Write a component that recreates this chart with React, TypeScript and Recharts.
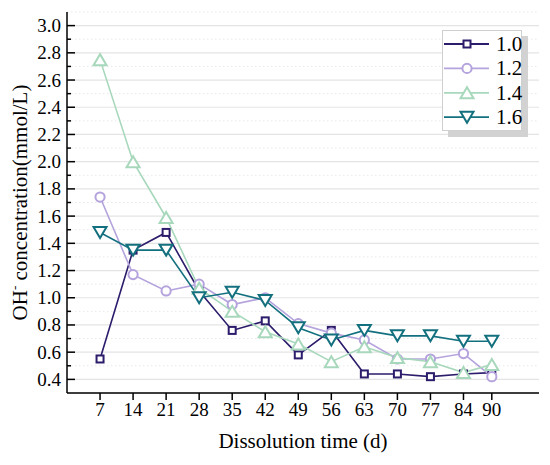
import {
  LineChart,
  Line,
  XAxis,
  YAxis,
  CartesianGrid,
  Legend,
} from "recharts";

const days = [7, 14, 21, 28, 35, 42, 49, 56, 63, 70, 77, 84, 90];
const s10 = [0.55, 1.35, 1.48, 1.05, 0.76, 0.83, 0.58, 0.76, 0.44, 0.44, 0.42, 0.44, 0.45];
const s12 = [1.74, 1.17, 1.05, 1.1, 0.95, 1.0, 0.81, 0.74, 0.69, 0.55, 0.55, 0.59, 0.42];
const s14 = [2.75, 2.0, 1.59, 1.07, 0.9, 0.75, 0.66, 0.53, 0.64, 0.56, 0.53, 0.45, 0.51];
const s16 = [1.48, 1.35, 1.35, 1.0, 1.04, 0.98, 0.78, 0.69, 0.76, 0.72, 0.72, 0.68, 0.68];

const yTicks = [
  0.4, 0.5, 0.6, 0.7, 0.8, 0.9, 1.0, 1.1, 1.2, 1.3, 1.4, 1.5, 1.6, 1.7, 1.8,
  1.9, 2.0, 2.1, 2.2, 2.3, 2.4, 2.5, 2.6, 2.7, 2.8, 2.9, 3.0,
];

const data = days.map((d, i) => ({
  day: d,
  s10: s10[i],
  s12: s12[i],
  s14: s14[i],
  s16: s16[i],
}));

const FONT = "Liberation Serif, DejaVu Serif, serif";

const C10 = "#2c1c6b";
const C12 = "#b4a3dc";
const C14 = "#a8d8bc";
const C16 = "#13707e";

const Square = ({ cx, cy, color }: any) => (
  <rect x={cx - 3.5} y={cy - 3.5} width={7} height={7} fill="#fff" stroke={color} strokeWidth={2} />
);
const Circle = ({ cx, cy, color }: any) => (
  <circle cx={cx} cy={cy} r={4.6} fill="#fff" stroke={color} strokeWidth={2} />
);
const TriUp = ({ cx, cy, color }: any) => (
  <path
    d={`M${cx},${cy - 5.5}L${cx + 6.5},${cy + 5.5}L${cx - 6.5},${cy + 5.5}Z`}
    fill="#fff"
    stroke={color}
    strokeWidth={2}
  />
);
const TriDown = ({ cx, cy, color }: any) => (
  <path
    d={`M${cx},${cy + 5.5}L${cx + 6.5},${cy - 5.5}L${cx - 6.5},${cy - 5.5}Z`}
    fill="#fff"
    stroke={color}
    strokeWidth={2}
  />
);

const series = [
  { key: "s10", name: "1.0", color: C10, Shape: Square },
  { key: "s12", name: "1.2", color: C12, Shape: Circle },
  { key: "s14", name: "1.4", color: C14, Shape: TriUp },
  { key: "s16", name: "1.6", color: C16, Shape: TriDown },
];

const YTick = ({ x, y, payload }: any) => {
  const major = Math.round(payload.value * 10) % 2 === 0;
  return (
    <g>
      <line x1={x} y1={y} x2={x + (major ? 8 : 4)} y2={y} stroke="#000" strokeWidth={1.5} />
      {major && (
        <text x={x - 6} y={y + 6.5} textAnchor="end" style={{ fontFamily: FONT, fontSize: 19 }} fill="#000">
          {payload.value.toFixed(1)}
        </text>
      )}
    </g>
  );
};

const XTick = ({ x, y, payload }: any) => (
  <text x={x} y={y + 13} textAnchor="middle" style={{ fontFamily: FONT, fontSize: 19 }} fill="#000">
    {payload.value}
  </text>
);

const gridLine = (p: any) => {
  const major = p.index % 2 === 0;
  return (
    <line
      key={p.key}
      x1={p.x1}
      y1={p.y1}
      x2={p.x2}
      y2={p.y2}
      stroke={major ? "#e4e4e4" : "#e8e8e8"}
      strokeWidth={major ? 1.2 : 1}
      strokeDasharray={major ? undefined : "1.5 2.5"}
    />
  );
};

const XLabel = ({ viewBox }: any) => (
  <text
    x={viewBox.x + viewBox.width / 2}
    y={448}
    textAnchor="middle"
    style={{ fontFamily: FONT, fontSize: 21 }}
    fill="#000"
  >
    Dissolution time (d)
  </text>
);

const YLabel = ({ viewBox }: any) => {
  const cx = 27;
  const cy = viewBox.y + viewBox.height / 2;
  return (
    <text
      x={cx}
      y={cy}
      transform={`rotate(-90, ${cx}, ${cy})`}
      textAnchor="middle"
      style={{ fontFamily: FONT, fontSize: 21 }}
      fill="#000"
    >
      <tspan>OH</tspan>
      <tspan dy={-8} style={{ fontSize: 13 }}>-</tspan>
      <tspan dy={8}> concentration(mmol/L)</tspan>
    </text>
  );
};

const LegendBox = () => (
  <svg width={90} height={112}>
    <rect x={6} y={6} width={80} height={101} fill="#d2d2d2" />
    <rect x={0.5} y={0.5} width={79} height={100} fill="#fff" stroke="#cfcfcf" strokeWidth={1} />
    {series.map((s, i) => {
      const cy = 14 + i * 24.4;
      const Shape = s.Shape;
      return (
        <g key={s.key}>
          <line x1={2} y1={cy} x2={47} y2={cy} stroke={s.color} strokeWidth={1.8} />
          <Shape cx={25} cy={cy} color={s.color} />
          <text x={54} y={cy + 7} style={{ fontFamily: FONT, fontSize: 21 }} fill="#000">
            {s.name}
          </text>
        </g>
      );
    })}
  </svg>
);

export default function App() {
  return (
    <div style={{ position: "absolute", left: 0, top: 0, width: 550, height: 465, background: "#fff" }}>
      <LineChart width={550} height={465} data={data} margin={{ top: 12, right: 11, left: 0, bottom: 0 }}>
        <CartesianGrid vertical={false} horizontal={gridLine} />
        <XAxis
          dataKey="day"
          type="number"
          domain={[0, 100]}
          ticks={days}
          interval={0}
          height={72}
          tickSize={7}
          tickMargin={3}
          axisLine={{ stroke: "#000", strokeWidth: 1.5 }}
          tickLine={{ stroke: "#000", strokeWidth: 1.5 }}
          tick={<XTick />}
          label={<XLabel />}
        />
        <XAxis
          xAxisId="top"
          orientation="top"
          type="number"
          domain={[0, 100]}
          height={0}
          tick={false}
          tickLine={false}
          axisLine={{ stroke: "#000", strokeWidth: 1.5 }}
        />
        <YAxis
          type="number"
          domain={[0.3, 3.1]}
          ticks={yTicks}
          interval={0}
          width={67}
          tickSize={0}
          tickMargin={0}
          tickLine={false}
          axisLine={{ stroke: "#000", strokeWidth: 1.5 }}
          tick={<YTick />}
          label={<YLabel />}
        />
        <YAxis
          yAxisId="right"
          orientation="right"
          type="number"
          domain={[0.3, 3.1]}
          width={0}
          tick={false}
          tickLine={false}
          axisLine={{ stroke: "#000", strokeWidth: 1.5 }}
        />
        <Legend
          layout="vertical"
          align="center"
          verticalAlign="middle"
          content={<LegendBox />}
          wrapperStyle={{ left: 442, top: 30, width: 90, height: 112 }}
        />
        {series.map((s) => {
          const Shape = s.Shape;
          return (
            <Line
              key={s.key}
              type="linear"
              dataKey={s.key}
              name={s.name}
              stroke={s.color}
              strokeWidth={1.6}
              isAnimationActive={false}
              dot={(p: any) => <Shape key={`${s.key}-${p.index}`} cx={p.cx} cy={p.cy} color={s.color} />}
              activeDot={false}
            />
          );
        })}
      </LineChart>
    </div>
  );
}
